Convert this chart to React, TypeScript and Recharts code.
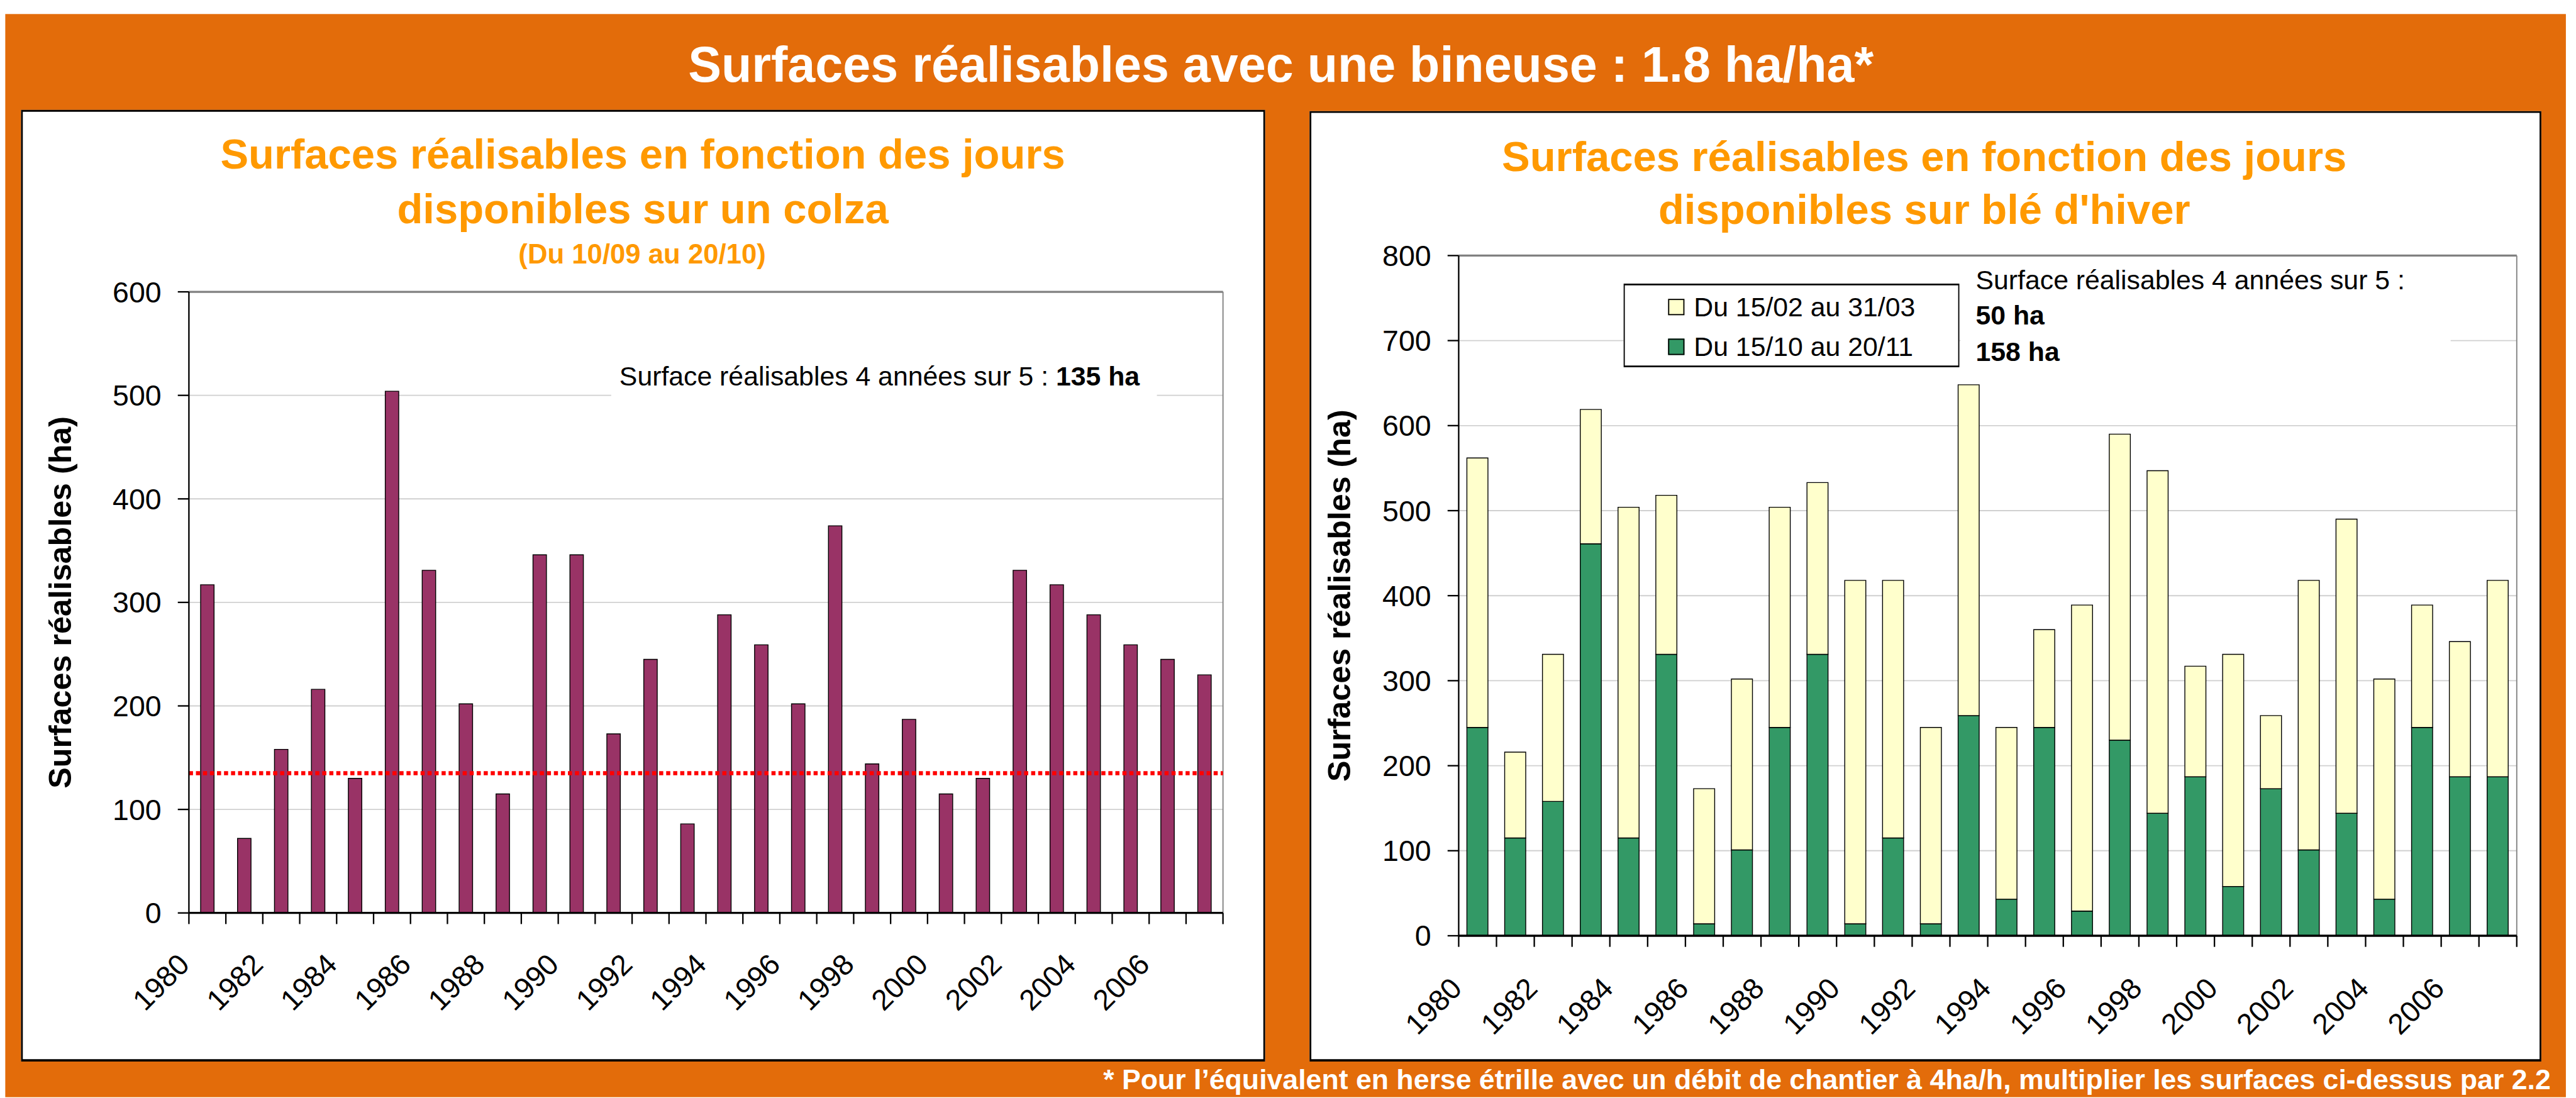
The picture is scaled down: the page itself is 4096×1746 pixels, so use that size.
import React from 'react';
import { BarChart, Bar, XAxis, YAxis, CartesianGrid, ReferenceLine, Legend } from 'recharts';

// Everything below is laid out in reference pixels (4400 x 1876) and scaled once.
const SCALE = 0.93;
const FONT = '"Liberation Sans", Arial, Helvetica, sans-serif';
const ORANGE = '#E36C0A';
const TITLE_ORANGE = '#FF9900';

const years = [
  '1980', '1981', '1982', '1983', '1984', '1985', '1986', '1987', '1988', '1989',
  '1990', '1991', '1992', '1993', '1994', '1995', '1996', '1997', '1998', '1999',
  '2000', '2001', '2002', '2003', '2004', '2005', '2006', '2007',
];

// colza, 10/09 -> 20/10
const colzaHa = [
  317, 72, 158, 216, 130, 504, 331, 202, 115, 346,
  346, 173, 245, 86, 288, 259, 202, 374, 144, 187,
  115, 130, 331, 317, 288, 259, 245, 230,
];

// blé d'hiver, autumn window (green, bottom of the stack)
const octNovHa = [
  245, 115, 158, 461, 115, 331, 14, 101, 245, 331,
  14, 115, 14, 259, 43, 245, 29, 230, 144, 187,
  58, 173, 101, 144, 43, 245, 187, 187,
];

// blé d'hiver, spring window (yellow, top of the stack)
const febMarHa = [
  317, 101, 173, 158, 389, 187, 159, 201, 259, 202,
  404, 303, 231, 389, 202, 115, 360, 360, 403, 130,
  273, 86, 317, 346, 259, 144, 159, 231,
];

const colzaTicks = [0, 100, 200, 300, 400, 500, 600];
const wheatTicks = [0, 100, 200, 300, 400, 500, 600, 700, 800];
const colzaThreshold = 135;

const seriesLabels = { oct: 'Du 15/10 au 20/11', feb: 'Du 15/02 au 31/03' };
const seriesColors = { colza: '#993366', oct: '#339966', feb: '#FFFFCC' };
const legendOrder = ['feb', 'oct'];

const colzaData = years.map((year, i) => ({ year, ha: colzaHa[i] }));
const wheatData = years.map((year, i) => ({ year, oct: octNovHa[i], feb: febMarHa[i] }));

// panel boxes and plot margins (reference px)
const leftPanel = { x: 36, y: 188, w: 2127, h: 1627 };
const rightPanel = { x: 2239, y: 190, w: 2106, h: 1625 };
const leftLayout = { top: 311, right: 72, yAxisW: 287, xAxisH: 254 };
const rightLayout = { top: 247, right: 42, yAxisW: 255, xAxisH: 215 };

const bandOf = (panel: typeof leftPanel, lay: typeof leftLayout) =>
  (panel.w - lay.right - lay.yAxisW) / years.length;

function YearTick(props: any) {
  const { x, y, index, payload, band, dx, dy } = props;
  const lx = x - band / 2;
  const ax = x + dx;
  const ay = y + dy;
  return (
    <g>
      <line x1={lx} x2={lx} y1={y} y2={y + 19} stroke="#000" strokeWidth={2.5} />
      {index === years.length - 1 && (
        <line x1={x + band / 2} x2={x + band / 2} y1={y} y2={y + 19} stroke="#000" strokeWidth={2.5} />
      )}
      {index % 2 === 0 && (
        <text
          x={ax}
          y={ay}
          textAnchor="end"
          transform={`rotate(-45 ${ax} ${ay})`}
          fontSize={50}
          fontFamily={FONT}
          fill="#000"
        >
          {payload.value}
        </text>
      )}
    </g>
  );
}

function AxisTitle(props: any) {
  const { viewBox, offsetX, fallbackY } = props;
  const vb = viewBox && typeof viewBox.height === 'number' ? viewBox : null;
  const cx = (vb ? vb.x : 0) + offsetX;
  const cy = vb ? vb.y + vb.height / 2 : fallbackY;
  return (
    <text
      x={cx}
      y={cy}
      transform={`rotate(-90 ${cx} ${cy})`}
      textAnchor="middle"
      fontSize={54}
      fontWeight="bold"
      fontFamily={FONT}
      fill="#000"
    >
      Surfaces réalisables (ha)
    </text>
  );
}

function WheatLegend(props: any) {
  const items = [...(props.payload ?? [])].sort(
    (a: any, b: any) => legendOrder.indexOf(a.dataKey) - legendOrder.indexOf(b.dataKey),
  );
  return (
    <div
      style={{
        width: 574,
        height: 143,
        boxSizing: 'border-box',
        border: '2px solid #000',
        borderTopWidth: 3,
        borderBottomWidth: 3,
        background: '#fff',
        position: 'relative',
        fontFamily: FONT,
      }}
    >
      {items.map((it: any, i: number) => (
        <div
          key={it.value}
          style={{ position: 'absolute', left: 74, top: 12 + i * 68, height: 50, display: 'flex', alignItems: 'center' }}
        >
          <span
            style={{
              display: 'inline-block',
              width: 28,
              height: 28,
              boxSizing: 'border-box',
              border: '2px solid #000',
              background: seriesColors[it.dataKey as 'oct' | 'feb'] ?? it.color,
              marginRight: 16,
            }}
          />
          <span style={{ fontSize: 46, lineHeight: '50px', color: '#000', whiteSpace: 'nowrap' }}>{it.value}</span>
        </div>
      ))}
    </div>
  );
}

function ColzaChart() {
  const band = bandOf(leftPanel, leftLayout);
  return (
    <BarChart
      width={leftPanel.w}
      height={leftPanel.h}
      data={colzaData}
      margin={{ top: leftLayout.top, right: leftLayout.right, bottom: 0, left: 0 }}
    >
      <CartesianGrid vertical={false} stroke="#D0D0D0" strokeWidth={2} />
      <XAxis
        dataKey="year"
        height={leftLayout.xAxisH}
        interval={0}
        tickSize={0}
        tickMargin={0}
        tickLine={false}
        axisLine={{ stroke: '#000', strokeWidth: 3.5 }}
        tick={(p: any) => <YearTick {...p} band={band} dx={-28} dy={91} />}
      />
      <YAxis
        width={leftLayout.yAxisW}
        domain={[0, 600]}
        ticks={colzaTicks}
        tickSize={19}
        tickMargin={28}
        axisLine={{ stroke: '#000', strokeWidth: 2.5 }}
        tickLine={{ stroke: '#000', strokeWidth: 2.5 }}
        tick={{ fill: '#000', fontSize: 50, fontFamily: FONT }}
        label={<AxisTitle offsetX={86} fallbackY={842} />}
      />
      <ReferenceLine y={600} stroke="#808080" strokeWidth={3.5} />
      <ReferenceLine x="2007" position="end" stroke="#808080" strokeWidth={2} />
      <Bar dataKey="ha" fill={seriesColors.colza} stroke="#000" strokeWidth={1.5} barSize={23} isAnimationActive={false} />
      <ReferenceLine y={colzaThreshold} stroke="#FF0000" strokeWidth={7} strokeDasharray="7 5" />
    </BarChart>
  );
}

function WheatChart() {
  const band = bandOf(rightPanel, rightLayout);
  return (
    <BarChart
      width={rightPanel.w}
      height={rightPanel.h}
      data={wheatData}
      margin={{ top: rightLayout.top, right: rightLayout.right, bottom: 0, left: 0 }}
    >
      <CartesianGrid vertical={false} stroke="#D0D0D0" strokeWidth={2} />
      <XAxis
        dataKey="year"
        height={rightLayout.xAxisH}
        interval={0}
        tickSize={0}
        tickMargin={0}
        tickLine={false}
        axisLine={{ stroke: '#000', strokeWidth: 3.5 }}
        tick={(p: any) => <YearTick {...p} band={band} dx={-24} dy={93} />}
      />
      <YAxis
        width={rightLayout.yAxisW}
        domain={[0, 800]}
        ticks={wheatTicks}
        tickSize={19}
        tickMargin={28}
        axisLine={{ stroke: '#000', strokeWidth: 2.5 }}
        tickLine={{ stroke: '#000', strokeWidth: 2.5 }}
        tick={{ fill: '#000', fontSize: 50, fontFamily: FONT }}
        label={<AxisTitle offsetX={70} fallbackY={828} />}
      />
      <ReferenceLine y={800} stroke="#808080" strokeWidth={3.5} />
      <ReferenceLine x="2007" position="end" stroke="#808080" strokeWidth={2} />
      <Bar dataKey="oct" name={seriesLabels.oct} stackId="w" fill={seriesColors.oct} stroke="#000" strokeWidth={1.5} barSize={36} isAnimationActive={false} />
      <Bar dataKey="feb" name={seriesLabels.feb} stackId="w" fill={seriesColors.feb} stroke="#000" strokeWidth={1.5} barSize={36} isAnimationActive={false} />
      <Legend
        layout="vertical"
        align="center"
        verticalAlign="middle"
        wrapperStyle={{ left: 537, top: 295, width: 574, height: 143 }}
        content={(p: any) => <WheatLegend {...p} />}
      />
    </BarChart>
  );
}

function Panel({ box }: { box: typeof leftPanel }) {
  return (
    <div
      style={{
        position: 'absolute',
        left: box.x,
        top: box.y,
        width: box.w,
        height: box.h,
        boxSizing: 'border-box',
        background: '#fff',
        border: '3px solid #000',
        borderTopWidth: 3.5,
        borderBottomWidth: 4.5,
      }}
    />
  );
}

export default function App() {
  return (
    <div style={{ position: 'absolute', left: 0, top: 0, width: 4096, height: 1746, overflow: 'hidden', background: '#fff' }}>
      <div
        style={{
          position: 'absolute',
          left: 0,
          top: 0,
          width: 4400,
          height: 1876,
          transform: `scale(${SCALE})`,
          transformOrigin: '0 0',
          fontFamily: FONT,
        }}
      >
        <div style={{ position: 'absolute', left: 9, top: 24, width: 4378, height: 1852, background: ORANGE }} />
        <Panel box={leftPanel} />
        <Panel box={rightPanel} />

        <div style={{ position: 'absolute', left: leftPanel.x, top: leftPanel.y }}>
          <ColzaChart />
        </div>
        <div style={{ position: 'absolute', left: rightPanel.x, top: rightPanel.y }}>
          <WheatChart />
        </div>

        {/* titles, notes and footnote */}
        <svg
          width={4400}
          height={1876}
          style={{ position: 'absolute', left: 0, top: 0, pointerEvents: 'none', zIndex: 5 }}
          fontFamily={FONT}
        >
          <text x={2190} y={140} textAnchor="middle" fontSize={85} fontWeight="bold" fill="#fff">
            Surfaces réalisables avec une bineuse : 1.8 ha/ha*
          </text>

          <g fill={TITLE_ORANGE} fontWeight="bold" textAnchor="middle">
            <text x={1099} y={288} fontSize={72}>Surfaces réalisables en fonction des jours</text>
            <text x={1099} y={382} fontSize={72}>disponibles sur un colza</text>
            <text x={1098} y={450} fontSize={47}>(Du 10/09 au 20/10)</text>
            <text x={3290} y={292} fontSize={72}>Surfaces réalisables en fonction des jours</text>
            <text x={3290} y={383} fontSize={72}>disponibles sur blé d'hiver</text>
          </g>

          <rect x={1045} y={605} width={933} height={90} fill="#fff" />
          <text x={1059} y={659} fontSize={46} fill="#000">
            Surface réalisables 4 années sur 5 : <tspan fontWeight="bold">135 ha</tspan>
          </text>

          <rect x={3352} y={445} width={838} height={195} fill="#fff" />
          <text x={3378} y={495} fontSize={46} fill="#000">Surface réalisables 4 années sur 5 :</text>
          <text x={3378} y={555} fontSize={46} fontWeight="bold" fill="#000">50 ha</text>
          <text x={3378} y={617} fontSize={46} fontWeight="bold" fill="#000">158 ha</text>

          <text x={4361} y={1862} textAnchor="end" fontSize={48} fontWeight="bold" fill="#fff">
            * Pour l’équivalent en herse étrille avec un débit de chantier à 4ha/h, multiplier les surfaces ci-dessus par 2.2
          </text>
        </svg>
      </div>
    </div>
  );
}
